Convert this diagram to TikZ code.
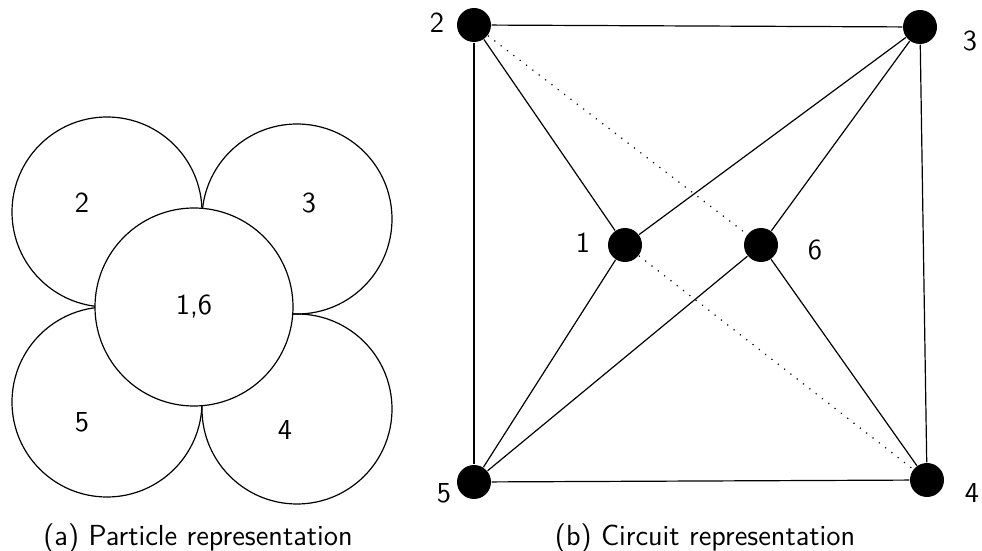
\documentclass[tikz,border=0pt]{standalone}
\begin{document}
\begin{tikzpicture}[x=0.5pt,y=-0.5pt,
  font=\sffamily\fontsize{14.5}{17}\selectfont,
  line width=0.6pt,
  pcirc/.style={draw, circle, inner sep=0pt, minimum size=95pt},
  ccirc/.style={draw, fill=white, circle, inner sep=0pt, minimum size=99pt},
  vtx/.style={circle, fill=black, inner sep=0pt, minimum size=17pt},
  edge/.style={line width=0.6pt},
  dotline/.style={line width=0.6pt, dash pattern=on 0.6pt off 3.4pt},
  lbl/.style={inner sep=0pt}]
\useasboundingbox (0,0) rectangle (982,551);
% (a) particle representation
\node[pcirc] (p2) at (107,212) {};
\node[pcirc] (p3) at (297,219) {};
\node[pcirc] (p5) at (107,402) {};
\node[pcirc] (p4) at (297,409) {};
\node[lbl] (l2) at (82,203) {2};
\node[lbl] (l3) at (309,203) {3};
\node[lbl] (l5) at (82,422) {5};
\node[lbl] (l4) at (285,430) {4};
\node[ccirc] (p16) at (194,307) {1,6};
\node[lbl] (capa) at (198,538) {(a) Particle representation};
% (b) circuit representation
\node[vtx] (v2) at (474,25) {};
\node[vtx] (v3) at (920,27) {};
\node[vtx] (v1) at (625,245) {};
\node[vtx] (v6) at (761,245) {};
\node[vtx] (v5) at (474,482) {};
\node[vtx] (v4) at (927,480) {};
\node[lbl] (t2) at (437,23) {2};
\node[lbl] (t3) at (970,41) {3};
\node[lbl] (t1) at (583,243) {1};
\node[lbl] (t6) at (815,250) {6};
\node[lbl] (t5) at (444,493) {5};
\node[lbl] (t4) at (972,493) {4};
\draw[edge] (v2) -- (v3);
\draw[edge] (v3) -- (v4);
\draw[edge] (v4) -- (v5);
\draw[edge] (v5) -- (v2);
\draw[edge] (v2) -- (v1);
\draw[edge] (v1) -- (v3);
\draw[edge] (v3) -- (v6);
\draw[edge] (v6) -- (v4);
\draw[edge] (v5) -- (v1);
\draw[edge] (v5) -- (v6);
\draw[dotline] (v2) -- (v6);
\draw[dotline] (v1) -- (v4);
\node[lbl] (capb) at (705,538) {(b) Circuit representation};
\end{tikzpicture}
\end{document}
